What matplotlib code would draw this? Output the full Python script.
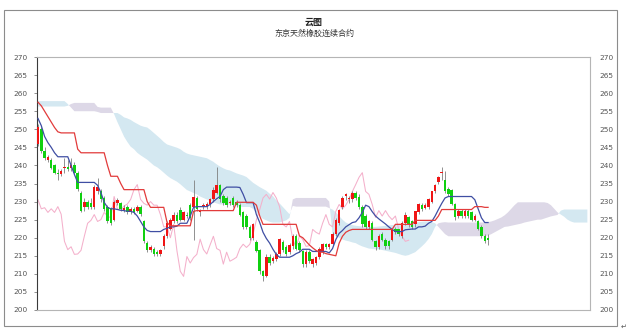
import matplotlib
matplotlib.use("Agg")
import matplotlib.pyplot as plt
from matplotlib.patches import Rectangle
import numpy as np

# --- Datos (velas diarias) ---
opens = [
    246.0, 250.0, 244.0, 241.5, 241.6, 240.0, 237.6, 237.5, 239.3, 239.5,
    239.2, 240.0, 238.0, 232.5, 228.4, 230.0, 229.5, 228.6, 233.0, 233.0,
    231.0, 228.5, 228.0, 225.0, 229.5, 229.5, 227.7, 228.5, 227.0, 228.0,
    227.3, 228.5, 224.5, 218.5, 216.7, 217.0, 216.0, 215.4, 217.6, 220.4,
    222.5, 224.5, 226.4, 227.8, 225.0, 226.2, 229.0, 228.6, 231.0, 227.0,
    228.7, 228.5, 229.2, 230.6, 232.5, 234.7, 231.5, 231.0, 229.5, 231.0,
    230.0, 229.0, 227.0, 226.0, 223.0, 220.0, 218.7, 216.7, 210.7, 209.3,
    214.8, 213.5, 214.0, 215.4, 218.7, 217.5, 216.0, 217.6, 220.4, 218.5,
    216.3, 212.7, 216.0, 212.7, 213.0, 214.6, 216.0, 218.2, 217.5, 218.2,
    221.0, 224.0, 228.4, 231.5, 230.6, 230.6, 232.5, 231.4, 228.4, 226.0,
    223.0, 224.0, 219.0, 217.5, 221.0, 219.5, 219.0, 219.5, 222.3, 222.3,
    220.4, 224.0, 225.6, 224.5, 223.7, 227.0, 229.0, 228.3, 228.6, 230.0,
    233.0, 235.3, 237.8, 236.0, 233.5, 233.3, 229.2, 226.0, 227.5, 226.0,
    227.5, 227.0, 225.0, 224.5, 223.0, 220.4, 219.8,
]
highs = [
    251.5, 250.5, 245.0, 243.0, 242.0, 240.5, 239.0, 239.0, 242.0, 241.5,
    242.0, 241.0, 238.5, 233.0, 231.0, 230.5, 231.0, 234.5, 236.5, 233.5,
    231.5, 229.0, 228.5, 230.5, 231.0, 230.0, 229.0, 229.0, 228.5, 228.5,
    229.0, 229.0, 225.0, 219.0, 218.0, 217.5, 216.5, 217.0, 221.0, 224.5,
    225.5, 227.0, 227.0, 228.5, 227.5, 227.0, 229.5, 236.0, 231.5, 228.0,
    229.5, 230.0, 231.0, 234.0, 239.7, 235.0, 232.0, 231.5, 230.5, 231.5,
    230.5, 229.5, 227.5, 226.5, 223.5, 224.0, 219.5, 217.0, 211.0, 215.5,
    215.5, 215.0, 216.0, 220.0, 219.5, 218.0, 218.5, 221.0, 221.0, 219.0,
    216.5, 216.5, 216.5, 214.5, 215.0, 217.5, 218.5, 218.5, 218.5, 221.5,
    225.5, 228.0, 231.5, 232.5, 231.5, 233.0, 233.0, 232.0, 229.0, 226.5,
    225.0, 224.5, 219.5, 221.0, 221.5, 220.0, 219.5, 222.5, 223.0, 222.5,
    224.5, 227.0, 226.0, 225.0, 227.5, 229.5, 229.5, 229.5, 231.0, 233.0,
    235.0, 237.0, 239.5, 238.5, 234.0, 233.5, 229.5, 228.0, 228.0, 228.0,
    228.0, 227.5, 226.5, 225.0, 223.5, 221.0, 221.0,
]
lows = [
    245.5, 243.5, 241.5, 241.0, 239.0, 237.5, 236.0, 237.0, 238.0, 238.5,
    238.5, 237.5, 233.0, 227.0, 227.5, 228.0, 228.0, 228.0, 232.0, 230.0,
    227.5, 224.0, 223.5, 224.5, 229.0, 227.5, 227.0, 226.5, 226.5, 226.5,
    227.0, 226.0, 218.5, 216.0, 216.0, 215.0, 215.0, 215.0, 217.0, 220.0,
    222.0, 224.0, 224.0, 224.5, 224.5, 225.5, 225.0, 219.5, 227.5, 226.0,
    228.0, 228.0, 228.5, 230.0, 232.0, 230.0, 229.0, 228.5, 229.0, 228.5,
    228.5, 226.0, 222.5, 222.5, 219.5, 219.5, 216.0, 210.0, 208.0, 209.0,
    212.5, 213.0, 213.5, 215.0, 216.0, 215.0, 215.5, 217.0, 216.5, 216.0,
    212.0, 212.0, 213.0, 212.0, 212.5, 214.0, 215.5, 217.0, 217.0, 218.0,
    220.5, 223.5, 228.0, 230.5, 229.5, 230.0, 230.5, 228.0, 223.0, 222.5,
    222.5, 219.0, 216.5, 217.0, 219.0, 217.0, 217.0, 219.0, 221.0, 220.5,
    220.0, 223.5, 223.0, 222.5, 223.0, 226.5, 227.5, 228.0, 228.0, 229.5,
    232.5, 235.0, 236.0, 232.5, 231.5, 229.0, 225.0, 225.5, 225.5, 225.5,
    225.5, 224.5, 224.5, 222.0, 220.0, 218.5, 218.0,
]
closes = [
    250.5, 244.0, 242.0, 242.2, 239.4, 238.0, 237.5, 238.5, 239.4, 239.0,
    240.0, 238.0, 233.4, 227.3, 230.0, 228.5, 228.5, 234.0, 234.0, 230.6,
    228.0, 224.7, 224.0, 230.0, 230.5, 228.0, 228.3, 227.0, 228.0, 227.0,
    228.6, 226.5, 219.0, 216.7, 217.5, 215.4, 215.5, 216.5, 220.4, 224.0,
    224.8, 226.4, 224.5, 225.0, 227.0, 226.0, 225.5, 231.4, 228.0, 227.5,
    228.8, 229.3, 230.6, 233.3, 234.7, 230.6, 229.5, 229.0, 230.0, 229.0,
    229.0, 226.4, 223.0, 223.0, 220.0, 223.7, 216.3, 210.7, 209.3, 214.8,
    213.0, 214.5, 215.4, 219.6, 216.7, 215.5, 218.0, 220.4, 217.0, 216.5,
    212.7, 216.0, 213.5, 214.0, 214.6, 217.0, 218.2, 217.3, 218.2, 221.0,
    225.0, 227.8, 231.0, 232.0, 230.7, 232.5, 231.0, 228.6, 223.7, 223.0,
    224.5, 219.5, 217.3, 220.5, 219.5, 217.6, 217.8, 222.3, 221.5, 221.0,
    224.0, 226.4, 223.7, 223.0, 227.3, 229.2, 228.0, 229.0, 230.6, 232.8,
    234.7, 236.7, 238.0, 232.8, 232.0, 229.2, 225.6, 227.5, 226.0, 227.5,
    226.0, 225.0, 226.0, 222.3, 220.4, 219.0, 219.3,
]

# linea de conversion (tenkan) - azul
tenkan = [
    253.0, 251.0, 248.0, 246.3, 245.0, 243.5, 242.4, 242.4, 242.4, 242.4,
    240.0, 237.5, 235.3, 235.3, 235.3, 235.3, 235.3, 235.3, 234.5, 232.5,
    229.8, 228.4, 228.0, 228.0, 227.8, 227.6, 227.5, 227.3, 227.3, 227.0,
    226.0, 224.5, 223.0, 222.0, 221.7, 221.7, 221.7, 221.7, 222.3, 222.6,
    223.0, 223.0, 223.2, 224.0, 224.0, 224.0, 226.0, 228.4, 228.6, 228.6,
    228.6, 228.6, 229.2, 230.0, 230.8, 231.4, 233.3, 234.0, 234.0, 234.0,
    234.0, 233.9, 232.0, 229.7, 229.7, 229.7, 226.4, 224.2, 221.5, 219.8,
    218.5, 216.8, 215.4, 214.6, 214.6, 214.6, 214.6, 215.0, 215.6, 216.0,
    216.8, 216.8, 216.8, 216.2, 216.2, 216.2, 216.2, 216.2, 215.8, 217.0,
    219.5, 221.2, 222.0, 223.0, 223.6, 224.2, 224.4, 225.5, 227.0, 229.0,
    228.6, 227.2, 226.0, 225.2, 224.5, 223.8, 223.0, 222.3, 221.7, 221.7,
    221.7, 222.2, 222.3, 222.4, 222.4, 223.0, 223.0, 223.2, 224.0, 224.5,
    226.0, 227.8, 229.5, 231.0, 231.4, 231.4, 231.4, 231.4, 231.4, 231.4,
    231.4, 231.4, 230.5, 228.0, 225.5, 224.2, 224.2,
]

# linea base (kijun) - roja
kijun = [
    257.5, 256.5, 255.0, 253.5, 252.0, 250.5, 249.3, 249.0, 249.0, 249.0,
    249.0, 249.0, 244.5, 243.5, 243.5, 243.5, 243.5, 243.5, 243.5, 243.5,
    243.5, 240.0, 237.0, 237.0, 237.0, 235.0, 233.3, 233.3, 233.3, 233.3,
    233.3, 233.3, 233.3, 230.0, 228.4, 228.4, 228.4, 228.4, 228.4, 224.2,
    223.3, 223.3, 223.3, 223.3, 223.3, 223.3, 223.3, 227.3, 227.5, 227.5,
    227.5, 227.5, 227.5, 227.5, 227.5, 227.5, 227.5, 227.5, 227.5, 227.5,
    229.8, 229.8, 229.8, 229.8, 229.8, 229.8, 229.0, 226.0, 223.7, 223.7,
    223.7, 223.7, 223.7, 223.7, 223.7, 223.7, 223.7, 223.7, 223.7, 220.5,
    220.0, 219.0, 218.0, 217.2, 216.5, 216.0, 216.0, 215.6, 215.4, 215.2,
    215.0, 218.5, 220.4, 221.5, 222.0, 222.3, 222.3, 222.3, 222.3, 222.3,
    222.3, 222.3, 222.3, 222.3, 222.3, 222.3, 222.3, 222.3, 223.7, 223.7,
    223.7, 223.7, 223.7, 223.7, 224.8, 224.8, 224.8, 224.8, 224.8, 224.8,
    224.8, 226.0, 227.8, 227.8, 227.8, 227.8, 227.8, 227.8, 227.8, 227.8,
    227.8, 227.8, 228.6, 228.6, 228.6, 228.4, 228.4,
]

# nube: senkou span A y B (ya desplazadas hacia adelante)
span_a = [
    257.8, 257.8, 257.8, 257.8, 257.8, 257.8, 257.8, 257.8, 257.8, 257.0,
    256.0, 255.0, 255.0, 255.0, 255.0, 255.0, 255.0, 255.0, 254.8, 254.5,
    254.5, 254.5, 254.5, 254.5, 254.5, 254.0, 253.3, 253.0, 252.6, 252.0,
    251.5, 251.0, 250.7, 250.5, 249.8, 249.0, 248.2, 247.4, 246.5, 245.8,
    245.5, 245.2, 244.9, 244.5, 243.8, 243.3, 243.0, 242.8, 242.6, 242.4,
    242.2, 242.0, 241.5, 241.0, 240.3, 239.7, 239.2, 238.8, 238.6, 238.2,
    237.8, 237.5, 237.2, 236.8, 236.0, 235.2, 234.6, 234.0, 233.5, 233.0,
    232.2, 231.5, 230.4, 229.5, 228.5, 227.5, 226.5, 228.8, 228.6, 228.6,
    228.6, 228.6, 228.6, 228.6, 228.6, 228.6, 228.6, 228.6, 228.2, 227.8,
    227.0, 226.0, 225.0, 224.2, 223.8, 223.5, 223.3, 223.2, 223.1, 223.0,
    223.0, 223.0, 223.0, 223.1, 223.2, 223.3, 223.4, 223.5, 223.5, 223.6,
    223.7, 223.8, 223.9, 224.0, 224.2, 224.3, 224.4, 224.5, 224.5, 224.3,
    224.0, 223.0, 222.0, 221.0, 220.4, 220.4, 220.4, 220.4, 220.4, 220.4,
    220.4, 220.4, 220.4, 220.4, 220.4, 220.5, 220.6, 221.0, 221.5, 222.0,
    222.5, 223.0, 223.1, 223.3, 223.5, 223.7, 223.9, 224.2, 224.4, 224.6,
    224.8, 225.0, 225.0, 225.3, 225.6, 225.9, 226.1, 226.3, 227.5, 227.8,
    227.8, 227.8, 227.8, 227.8, 227.8, 227.8, 227.8,
]
span_b = [
    256.3, 256.3, 256.3, 256.3, 256.3, 256.3, 256.3, 256.3, 256.3, 256.5,
    257.0, 257.3, 257.3, 257.3, 257.3, 257.3, 257.3, 257.3, 256.2, 256.0,
    256.0, 256.0, 256.0, 254.2, 252.0, 250.0, 248.0, 246.5, 245.2, 244.5,
    243.5, 242.8, 242.2, 241.6, 240.8, 240.0, 239.5, 238.8, 238.0, 237.2,
    236.5, 236.0, 235.5, 234.8, 234.0, 233.2, 232.8, 232.4, 232.0, 231.4,
    231.0, 230.6, 230.2, 229.8, 229.5, 229.2, 229.2, 229.2, 229.2, 229.0,
    228.8, 228.6, 228.5, 228.5, 228.5, 228.0, 227.0, 226.0, 225.2, 224.8,
    224.4, 224.2, 224.2, 224.2, 224.5, 224.8, 225.5, 230.6, 231.0, 231.0,
    231.0, 231.0, 231.0, 231.0, 231.0, 231.0, 231.0, 231.0, 230.0, 221.0,
    220.5, 220.0, 219.5, 219.2, 219.0, 218.7, 218.5, 218.0, 217.6, 217.3,
    217.0, 216.9, 216.8, 216.8, 216.6, 216.4, 216.2, 216.0, 215.8, 215.5,
    215.2, 215.0, 215.2, 215.6, 216.0, 216.8, 217.6, 218.5, 219.6, 221.0,
    223.0, 224.0, 224.2, 224.3, 224.2, 224.2, 224.2, 224.2, 224.2, 224.2,
    224.2, 224.2, 224.2, 224.2, 224.2, 224.2, 224.3, 224.5, 224.8, 225.2,
    225.6, 226.2, 227.0, 228.0, 229.0, 229.8, 229.8, 229.8, 229.8, 229.8,
    229.8, 229.8, 229.8, 229.8, 229.6, 229.0, 228.0, 227.0, 226.4, 225.8,
    225.0, 224.5, 224.2, 224.2, 224.2, 224.2, 224.2,
]

chikou_lag = 24          # desplazamiento de la linea retrasada (en velas)
y_ticks = list(range(200, 275, 5))
title = "云图"
subtitle = "东京天然橡胶连续合约"

# --- Figura ---
cjk = ["Noto Sans CJK SC", "DejaVu Sans"]
W, H = 627, 332
fig = plt.figure(figsize=(W / 100, H / 100), dpi=100)
fig.patch.set_facecolor("white")

# marco exterior
fig.patches.append(Rectangle((4 / W, 6 / H), 613 / W, 316 / H, transform=fig.transFigure,
                             fill=False, edgecolor="#8c8c8c", linewidth=0.8))
fig.text(621 / W, 1 - 327 / H, "\u21b5", fontsize=5, color="#555555", va="center", ha="left")

fig.text(314 / W, 1 - 22 / H, title, ha="center", va="center", fontsize=6.5,
         fontweight="bold", family=cjk, color="#222222")
fig.text(314 / W, 1 - 33 / H, subtitle, ha="center", va="center", fontsize=5.8,
         family=cjk, color="#333333")

ax = fig.add_axes([37 / W, 1 - 310 / H, 553 / W, 253 / H])

o = np.array(opens)
h = np.array(highs)
l = np.array(lows)
c = np.array(closes)
x = np.arange(len(c))

a = np.array(span_a)
b = np.array(span_b)
xc = np.arange(len(a))

# nube
ax.fill_between(xc, a, b, where=a >= b, interpolate=True, color="#d4e8f1", linewidth=0, zorder=1)
ax.fill_between(xc, a, b, where=a < b, interpolate=True, color="#ddd8e7", linewidth=0, zorder=1)

# linea retrasada (chikou) - rosa
ax.plot(x[:-chikou_lag], c[chikou_lag:], color="#f4b0cb", linewidth=0.75, zorder=2)

# velas
up = c >= o
ax.vlines(x, l, h, color="#7f7f7f", linewidth=0.6, zorder=3)
body = np.maximum(np.abs(c - o), 0.35)
ax.bar(x, body, bottom=np.minimum(o, c), width=0.75,
       color=np.where(up, "#f01515", "#10d010"), linewidth=0, zorder=4)

# tenkan y kijun
ax.plot(x, tenkan, color="#3f4ea3", linewidth=0.9, zorder=5)
ax.plot(x, kijun, color="#e23b3b", linewidth=0.9, zorder=5)

ax.set_xlim(-0.3, 166.8)
ax.set_ylim(200, 270)
ax.set_yticks(y_ticks)
ax.set_xticks([])
ax.tick_params(axis="y", which="both", left=True, right=False, labelleft=True, labelright=True,
               labelsize=5.3, labelcolor="#555555", length=2, width=0.5, color="#666666", pad=5)

for side in ["top", "right", "bottom"]:
    ax.spines[side].set_color("#b5b5b5")
    ax.spines[side].set_linewidth(0.8)
ax.spines["left"].set_color("#3a3a3a")
ax.spines["left"].set_linewidth(0.8)

fig.savefig("out.png", dpi=100, facecolor="white")
